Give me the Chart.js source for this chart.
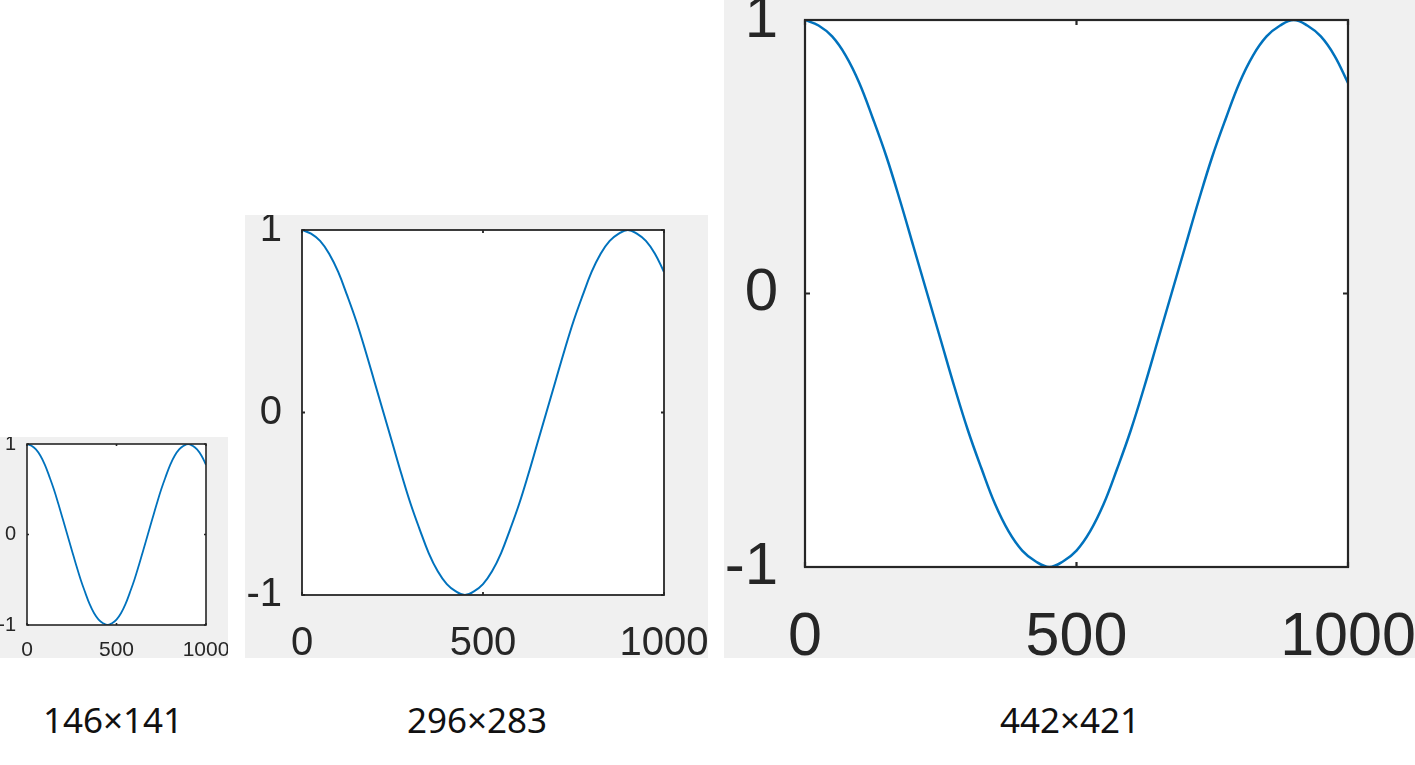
<!DOCTYPE html>
<html>
<head>
<meta charset="utf-8">
<script src="https://cdn.jsdelivr.net/npm/chart.js@4/dist/chart.umd.min.js"></script>
<style>
  html, body { margin:0; padding:0; background:#fff; width:1415px; height:765px; overflow:hidden; }
  .panel { position:absolute; background:#f0f0f0; }
  .panel canvas { display:block; }
  .cap { position:absolute; top:700px; font-family:"Noto Sans",sans-serif;
         font-size:35px; color:#111; transform:translateX(-50%); white-space:nowrap; line-height:40px; }
</style>
</head>
<body>
<div class="panel" id="p1" style="left:0px;top:437px;"><canvas id="c1" width="228" height="221"></canvas></div>
<div class="panel" id="p2" style="left:245px;top:215px;"><canvas id="c2" width="463" height="443"></canvas></div>
<div class="panel" id="p3" style="left:724px;top:0px;"><canvas id="c3" width="691" height="658"></canvas></div>
<div class="cap" style="left:113px;">146×141</div>
<div class="cap" style="left:477px;">296×283</div>
<div class="cap" style="left:1070px;">442×421</div>
<script>
// ── Data ────────────────────────────────────────────────────────────
const xValues = [0, 25, 50, 75, 100, 125, 150, 175, 200, 225, 250, 275, 300, 325, 350, 375, 400,
                 425, 450, 475, 500, 525, 550, 575, 600, 625, 650, 675, 700, 725, 750, 775, 800,
                 825, 850, 875, 900, 925, 950, 975, 1000];
const yValues = [1.00, 0.98, 0.94, 0.87, 0.77, 0.64, 0.50, 0.34, 0.17, 0.00, -0.17, -0.34, -0.50,
                 -0.64, -0.77, -0.87, -0.94, -0.98, -1.00, -0.98, -0.94, -0.87, -0.77, -0.64, -0.50,
                 -0.34, -0.17, 0.00, 0.17, 0.34, 0.50, 0.64, 0.77, 0.87, 0.94, 0.98, 1.00, 0.98,
                 0.94, 0.87, 0.77];
const xTicks = [0, 500, 1000];
const yTicks = [-1, 0, 1];

const LINE_COLOR = '#0072bd';
const BOX_COLOR  = '#262626';

// ── Box + inward ticks, MATLAB style ───────────────────────────────
const matlabBox = {
  id: 'matlabBox',
  beforeDraw(chart) {
    const { ctx, chartArea: a } = chart;
    ctx.save();
    ctx.fillStyle = '#fff';
    ctx.fillRect(a.left, a.top, a.right - a.left, a.bottom - a.top);
    ctx.restore();
  },
  afterDraw(chart, args, opts) {
    const { ctx, chartArea: a, scales } = chart;
    ctx.save();
    ctx.strokeStyle = BOX_COLOR;
    ctx.lineWidth = opts.width;
    ctx.strokeRect(a.left, a.top, a.right - a.left, a.bottom - a.top);
    const t = opts.tick;
    ctx.beginPath();
    xTicks.forEach(v => {
      const px = scales.x.getPixelForValue(v);
      ctx.moveTo(px, a.bottom); ctx.lineTo(px, a.bottom - t);
      ctx.moveTo(px, a.top);    ctx.lineTo(px, a.top + t);
    });
    yTicks.forEach(v => {
      const py = scales.y.getPixelForValue(v);
      ctx.moveTo(a.left, py);  ctx.lineTo(a.left + t, py);
      ctx.moveTo(a.right, py); ctx.lineTo(a.right - t, py);
    });
    ctx.stroke();
    ctx.restore();
  }
};

function makePanel(id, p) {
  return new Chart(document.getElementById(id).getContext('2d'), {
    type: 'line',
    data: {
      datasets: [{
        data: xValues.map((x, i) => ({ x, y: yValues[i] })),
        borderColor: LINE_COLOR, borderWidth: p.line,
        pointRadius: 0, fill: false, tension: 0.4
      }]
    },
    plugins: [matlabBox],
    options: {
      responsive: false, animation: false, devicePixelRatio: 1,
      layout: { padding: { top: p.padTop, right: p.padRight, left: 0, bottom: 0 } },
      plugins: { legend: { display: false }, tooltip: { enabled: false },
                 matlabBox: { width: p.box, tick: p.tick } },
      scales: {
        x: {
          type: 'linear', min: 0, max: 1000,
          afterBuildTicks: s => { s.ticks = xTicks.map(v => ({ value: v })); },
          afterFit: s => { s.height = p.xAxisH; s.paddingLeft = 0; s.paddingRight = 0; },
          grid: { display: false, drawTicks: false }, border: { display: false },
          ticks: { color: '#262626', autoSkip: false, maxRotation: 0, padding: p.xPad,
                   callback: v => String(v),
                   font: { family: '"Liberation Sans", Arial, sans-serif', size: p.xFont } }
        },
        y: {
          type: 'linear', min: -1, max: 1,
          afterBuildTicks: s => { s.ticks = yTicks.map(v => ({ value: v })); },
          afterFit: s => { s.width = p.yAxisW; s.paddingTop = 0; s.paddingBottom = 0; },
          grid: { display: false, drawTicks: false }, border: { display: false },
          ticks: { color: '#262626', padding: p.yPad, callback: v => String(v),
                   font: { family: '"Liberation Sans", Arial, sans-serif', size: p.yFont } }
        }
      }
    }
  });
}

makePanel('c1', { padTop: 7,  padRight: 22, yAxisW: 27, xAxisH: 33, xFont: 21, yFont: 20,
                  xPad: 13, yPad: 11, line: 1.8, box: 1.6, tick: 2 });
makePanel('c2', { padTop: 15, padRight: 44, yAxisW: 57, xAxisH: 63, xFont: 40, yFont: 40,
                  xPad: 25, yPad: 20, line: 2, box: 1.8, tick: 3 });
makePanel('c3', { padTop: 20, padRight: 67, yAxisW: 81, xAxisH: 91, xFont: 61, yFont: 60,
                  xPad: 35, yPad: 27, line: 2.5, box: 2.2, tick: 5 });
</script>
</body>
</html>
